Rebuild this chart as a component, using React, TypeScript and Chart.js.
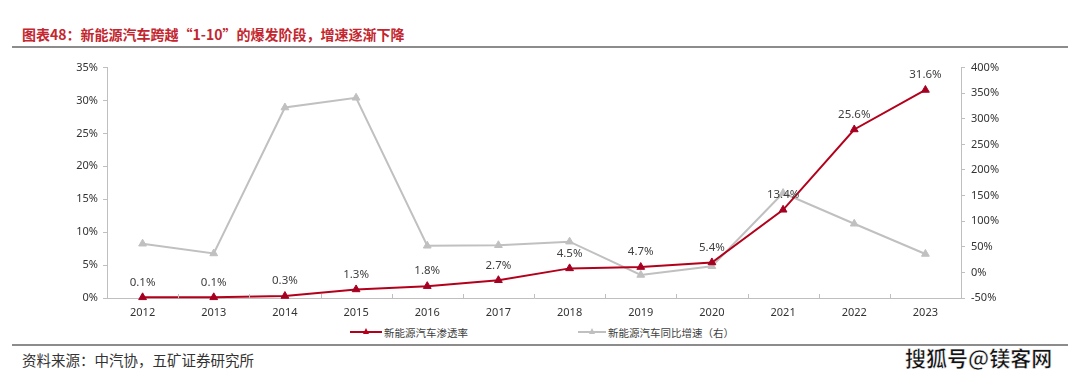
import React, { useEffect, useRef } from 'react';
import { Chart, registerables } from 'chart.js';

Chart.register(...registerables);

const years = ['2012', '2013', '2014', '2015', '2016', '2017', '2018', '2019', '2020', '2021', '2022', '2023'];
const penetration = [0.1, 0.1, 0.3, 1.3, 1.8, 2.7, 4.5, 4.7, 5.4, 13.4, 25.6, 31.6];
const growth = [56, 37, 322, 341, 52, 53, 60, -5, 12, 155, 95, 36];
const penetrationName = '新能源汽车渗透率';
const growthName = '新能源汽车同比增速（右）';
const titleText = '图表48：新能源汽车跨越“1-10”的爆发阶段，增速逐渐下降';
const sourceText = '资料来源：中汽协，五矿证券研究所';
const watermarkText = '搜狐号@镁客网';

const RED = '#b3001b';
const RED_POINT = '#a50021';
const GRAY = '#c0c0c0';
const AXIS = '#bfbfbf';
const NUM_FONT = '"Noto Sans", "Open Sans", sans-serif';
const CJK_FONT = '"Noto Sans CJK SC", sans-serif';

const overlayPlugin = {
  id: 'overlay',
  afterDatasetsDraw(chart: any) {
    const { ctx, chartArea } = chart;
    const xScale = chart.scales.x;
    ctx.save();
    ctx.strokeStyle = AXIS;
    ctx.lineWidth = 1;
    for (let i = 0; i <= years.length; i++) {
      const x = Math.round(xScale.getPixelForValue(i - 0.5)) + 0.5;
      ctx.beginPath();
      ctx.moveTo(x, chartArea.bottom);
      ctx.lineTo(x, chartArea.bottom - 4);
      ctx.stroke();
    }
    const meta = chart.getDatasetMeta(0);
    ctx.fillStyle = '#404040';
    ctx.font = `11.5px ${NUM_FONT}`;
    ctx.textAlign = 'center';
    ctx.textBaseline = 'middle';
    meta.data.forEach((pt: any, i: number) => {
      ctx.fillText(penetration[i].toFixed(1) + '%', pt.x, pt.y - 15);
    });
    ctx.restore();
  },
};

function ChartView() {
  const ref = useRef<HTMLCanvasElement | null>(null);
  useEffect(() => {
    if (!ref.current) return;
    const chart = new Chart(ref.current, {
      type: 'line',
      data: {
        labels: years,
        datasets: [
          {
            label: penetrationName,
            data: penetration,
            yAxisID: 'y',
            borderColor: RED,
            backgroundColor: RED_POINT,
            borderWidth: 2,
            pointStyle: 'triangle',
            pointRadius: 4.5,
            pointBackgroundColor: RED_POINT,
            pointBorderColor: RED_POINT,
            pointBorderWidth: 1,
            clip: false as any,
            order: 0,
          },
          {
            label: growthName,
            data: growth,
            yAxisID: 'y1',
            borderColor: GRAY,
            backgroundColor: GRAY,
            borderWidth: 2,
            pointStyle: 'triangle',
            pointRadius: 4.5,
            pointBackgroundColor: GRAY,
            pointBorderColor: GRAY,
            pointBorderWidth: 1,
            clip: false as any,
            order: 1,
          },
        ],
      },
      options: {
        animation: false,
        responsive: false,
        maintainAspectRatio: false,
        layout: { padding: { top: 12, left: 0, right: 0, bottom: 0 } },
        plugins: {
          legend: { display: false },
          tooltip: { enabled: false },
        },
        scales: {
          x: {
            offset: true,
            grid: { display: false, drawTicks: false, offset: true },
            border: { display: true, color: AXIS, width: 1 },
            ticks: {
              color: '#333333',
              font: { size: 11, family: NUM_FONT },
              padding: 8,
              maxRotation: 0,
            },
            afterFit: (s: any) => { s.height = 22; },
          },
          y: {
            position: 'left',
            min: 0,
            max: 35,
            grid: { drawOnChartArea: false, drawTicks: true, tickLength: 4, color: AXIS },
            border: { display: true, color: AXIS, width: 1 },
            ticks: {
              stepSize: 5,
              color: '#333333',
              font: { size: 11, family: NUM_FONT },
              padding: 5,
              callback: (v: any) => v + '%',
            },
            afterFit: (s: any) => { s.width = 107; },
          },
          y1: {
            position: 'right',
            min: -50,
            max: 400,
            grid: { drawOnChartArea: false, drawTicks: true, tickLength: 4, color: AXIS },
            border: { display: true, color: AXIS, width: 1 },
            ticks: {
              stepSize: 50,
              color: '#333333',
              font: { size: 11, family: NUM_FONT },
              padding: 6,
              callback: (v: any) => v + '%',
            },
            afterFit: (s: any) => { s.width = 119; },
          },
        },
      },
      plugins: [overlayPlugin],
    });
    return () => chart.destroy();
  }, []);
  return (
    <canvas
      ref={ref}
      width={1080}
      height={265}
      style={{ position: 'absolute', left: 0, top: 55, width: 1080, height: 265 }}
    />
  );
}

function LegendItem({ color, label, left, lineWidth }: { color: string; label: string; left: number; lineWidth: number }) {
  return (
    <div style={{ position: 'absolute', left, top: 324, height: 16, display: 'flex', alignItems: 'center' }}>
      <div style={{ position: 'relative', width: lineWidth, height: 16 }}>
        <div style={{ position: 'absolute', left: 0, right: 0, top: 7, height: 2, background: color }} />
        <div
          style={{
            position: 'absolute',
            left: lineWidth / 2 - 3.5,
            top: 4,
            width: 0,
            height: 0,
            borderLeft: '3.5px solid transparent',
            borderRight: '3.5px solid transparent',
            borderBottom: `6px solid ${color}`,
          }}
        />
      </div>
      <span style={{ marginLeft: 2, fontFamily: CJK_FONT, fontSize: 10.5, color: '#404040', whiteSpace: 'nowrap' }}>{label}</span>
    </div>
  );
}

export default function App() {
  useEffect(() => {
    document.body.style.margin = '0';
  }, []);
  return (
    <div style={{ position: 'fixed', left: 0, top: 0, width: 1080, height: 383, background: '#ffffff', overflow: 'hidden' }}>
      <div
        style={{
          position: 'absolute',
          left: 22,
          top: 24,
          fontFamily: CJK_FONT,
          fontSize: 14,
          fontWeight: 700,
          color: '#c3262e',
          whiteSpace: 'nowrap',
          lineHeight: '20px',
        }}
      >
        {titleText}
      </div>
      <div style={{ position: 'absolute', left: 12, top: 46, width: 1056, height: 1.5, background: '#8c8c8c' }} />
      <ChartView />
      <LegendItem color={RED} label={penetrationName} left={350} lineWidth={32} />
      <LegendItem color={GRAY} label={growthName} left={578} lineWidth={28} />
      <div style={{ position: 'absolute', left: 12, top: 344, width: 1056, height: 1.5, background: '#8c8c8c' }} />
      <div
        style={{
          position: 'absolute',
          left: 22,
          top: 350,
          fontFamily: CJK_FONT,
          fontSize: 14.5,
          color: '#333333',
          whiteSpace: 'nowrap',
          lineHeight: '20px',
        }}
      >
        {sourceText}
      </div>
      <div
        style={{
          position: 'absolute',
          left: 905,
          top: 344,
          fontFamily: CJK_FONT,
          fontSize: 21,
          fontWeight: 700,
          color: '#111111',
          whiteSpace: 'nowrap',
          lineHeight: '26px',
          WebkitTextStroke: '0.5px #ffffff',
          textShadow: '0 0 2px #ffffff, 0 0 1px #ffffff',
        }}
      >
        {watermarkText}
      </div>
    </div>
  );
}
